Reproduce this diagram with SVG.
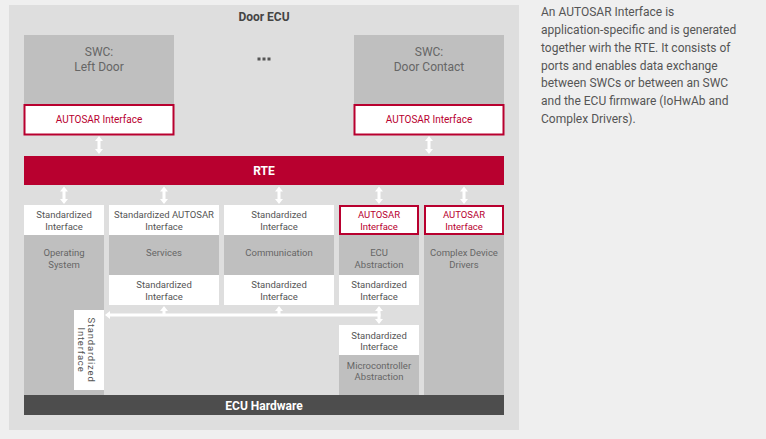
<svg xmlns="http://www.w3.org/2000/svg" width="766" height="439" viewBox="0 0 766 439">
<style>
text{font-family:Roboto,"Liberation Sans",sans-serif;}
.bg{fill:#efefef;}
.ecu{fill:#dedede;}
.swc{fill:#bfbfbf;}
.gray{fill:#bfbfbf;}
.white{fill:#ffffff;}
.ai{fill:#ffffff;stroke:#b8002f;stroke-width:2;}
.t12{font-size:12px;fill:#666;text-anchor:middle;}
.title{font-size:12px;font-weight:bold;fill:#444;text-anchor:middle;}
.bar{font-size:12px;font-weight:bold;fill:#fff;text-anchor:middle;}
.s{font-size:9.5px;fill:#555;text-anchor:middle;}
.g{font-size:9.5px;fill:#666;text-anchor:middle;}
.r{font-size:9.5px;fill:#b8002f;text-anchor:middle;}
.r10{font-size:10px;fill:#b8002f;text-anchor:middle;}
.side{font-size:12px;fill:#555;}
.arrow{fill:#ffffff;}
.line{stroke:#ffffff;stroke-width:3;fill:none;}
.dot{fill:#555;}
</style>
<rect class="bg" x="0" y="0" width="766" height="439"/>
<g id="door-ecu">
<rect class="ecu" x="9" y="5" width="510" height="425"/>
<text class="title" x="264" y="21">Door ECU</text>
</g>
<g id="swc-left-door">
<rect class="swc" x="24" y="35" width="150" height="70"/>
<text class="t12" x="99" y="56.3">SWC:</text>
<text class="t12" x="99" y="71.3">Left Door</text>
<rect class="ai" x="24.5" y="105" width="149" height="29.5"/>
<text class="r10" x="99" y="123">AUTOSAR Interface</text>
</g>
<g id="ellipsis">
<rect class="dot" x="257.5" y="57.5" width="3" height="3"/>
<rect class="dot" x="262.5" y="57.5" width="3" height="3"/>
<rect class="dot" x="267.5" y="57.5" width="3" height="3"/>
</g>
<g id="swc-door-contact">
<rect class="swc" x="354" y="35" width="150" height="70"/>
<text class="t12" x="429" y="56.3">SWC:</text>
<text class="t12" x="429" y="71.3">Door Contact</text>
<rect class="ai" x="354.5" y="105" width="149" height="29.5"/>
<text class="r10" x="429" y="123">AUTOSAR Interface</text>
</g>
<g id="rte">
<rect x="24" y="156" width="480" height="29" fill="#b8002f"/>
<text class="bar" x="264" y="174.5">RTE</text>
</g>
<g id="operating-system">
<rect class="white" x="24" y="205" width="80" height="30"/>
<text class="s" x="64" y="217.5">Standardized</text>
<text class="s" x="64" y="230">Interface</text>
<rect class="gray" x="24" y="235" width="80" height="160"/>
<text class="g" x="64" y="255.5">Operating</text>
<text class="g" x="64" y="267.5">System</text>
</g>
<g id="os-vertical-interface">
<rect class="white" x="74" y="310" width="30" height="80"/>
<g transform="translate(86,350) rotate(90)">
<text class="s" x="0" y="-1.6" letter-spacing="0.8">Standardized</text>
<text class="s" x="0" y="7.9" letter-spacing="0.8">Interface</text>
</g>
</g>
<g id="services">
<rect class="white" x="109" y="205" width="110" height="30"/>
<text class="s" x="164" y="217.5">Standardized AUTOSAR</text>
<text class="s" x="164" y="230">Interface</text>
<rect class="gray" x="109" y="235" width="110" height="40"/>
<text class="g" x="164" y="255.5">Services</text>
<rect class="white" x="109" y="275" width="110" height="30"/>
<text class="s" x="164" y="287.5">Standardized</text>
<text class="s" x="164" y="300">Interface</text>
</g>
<g id="communication">
<rect class="white" x="224" y="205" width="110" height="30"/>
<text class="s" x="279" y="217.5">Standardized</text>
<text class="s" x="279" y="230">Interface</text>
<rect class="gray" x="224" y="235" width="110" height="40"/>
<text class="g" x="279" y="255.5">Communication</text>
<rect class="white" x="224" y="275" width="110" height="30"/>
<text class="s" x="279" y="287.5">Standardized</text>
<text class="s" x="279" y="300">Interface</text>
</g>
<g id="ecu-abstraction">
<rect class="ai" x="340" y="206" width="78" height="28"/>
<text class="r" x="379" y="217.5">AUTOSAR</text>
<text class="r" x="379" y="230">Interface</text>
<rect class="gray" x="339" y="235" width="80" height="40"/>
<text class="g" x="379" y="255.5">ECU</text>
<text class="g" x="379" y="267.5">Abstraction</text>
<rect class="white" x="339" y="275" width="80" height="30"/>
<text class="s" x="379" y="287.5">Standardized</text>
<text class="s" x="379" y="300">Interface</text>
</g>
<g id="microcontroller-abstraction">
<rect class="white" x="339" y="325" width="80" height="30"/>
<text class="s" x="379" y="338.5">Standardized</text>
<text class="s" x="379" y="350">Interface</text>
<rect class="gray" x="339" y="355" width="80" height="40"/>
<text class="g" x="379" y="368.5">Microcontroller</text>
<text class="g" x="379" y="380">Abstraction</text>
</g>
<g id="complex-device-drivers">
<rect class="ai" x="425" y="206" width="78" height="28"/>
<text class="r" x="464" y="217.5">AUTOSAR</text>
<text class="r" x="464" y="230">Interface</text>
<rect class="gray" x="424" y="235" width="80" height="160"/>
<text class="g" x="464" y="255.5">Complex Device</text>
<text class="g" x="464" y="267.5">Drivers</text>
</g>
<g id="ecu-hardware">
<rect x="24" y="395" width="480" height="20" fill="#4d4d4d"/>
<text class="bar" x="264" y="409.5">ECU Hardware</text>
</g>
<g id="connectors">
<path class="arrow" d="M99,136 l4,5 h-2.5 v8 h2.5 l-4,5 l-4,-5 h2.5 v-8 h-2.5 z"/>
<path class="arrow" d="M429,136 l4,5 h-2.5 v8 h2.5 l-4,5 l-4,-5 h2.5 v-8 h-2.5 z"/>
<path class="arrow" d="M64,186.5 l4,5 h-2.5 v7.5 h2.5 l-4,5 l-4,-5 h2.5 v-7.5 h-2.5 z"/>
<path class="arrow" d="M164,186.5 l4,5 h-2.5 v7.5 h2.5 l-4,5 l-4,-5 h2.5 v-7.5 h-2.5 z"/>
<path class="arrow" d="M279,186.5 l4,5 h-2.5 v7.5 h2.5 l-4,5 l-4,-5 h2.5 v-7.5 h-2.5 z"/>
<path class="arrow" d="M379,186.5 l4,5 h-2.5 v7.5 h2.5 l-4,5 l-4,-5 h2.5 v-7.5 h-2.5 z"/>
<path class="arrow" d="M464,186.5 l4,5 h-2.5 v7.5 h2.5 l-4,5 l-4,-5 h2.5 v-7.5 h-2.5 z"/>
<line class="line" x1="109" y1="315" x2="380.5" y2="315"/>
<path class="arrow" d="M105,315 l5,-4 v8 z"/>
<path class="arrow" d="M164,306 l4,5 h-2.5 v4 h-3 v-4 h-2.5 z"/>
<path class="arrow" d="M279,306 l4,5 h-2.5 v4 h-3 v-4 h-2.5 z"/>
<path class="arrow" d="M379,306 l4,5 h-2.5 v8 h2.5 l-4,5 l-4,-5 h2.5 v-8 h-2.5 z"/>
</g>
<g id="description">
<text class="side" x="541" y="16">An AUTOSAR Interface is</text>
<text class="side" x="541" y="33.8">application-specific and is generated</text>
<text class="side" x="541" y="51.7">together wirh the RTE. It consists of</text>
<text class="side" x="541" y="69.5">ports and enables data exchange</text>
<text class="side" x="541" y="87.4">between SWCs or between an SWC</text>
<text class="side" x="541" y="105.2">and the ECU firmware (IoHwAb and</text>
<text class="side" x="541" y="123">Complex Drivers).</text>
</g>
</svg>
